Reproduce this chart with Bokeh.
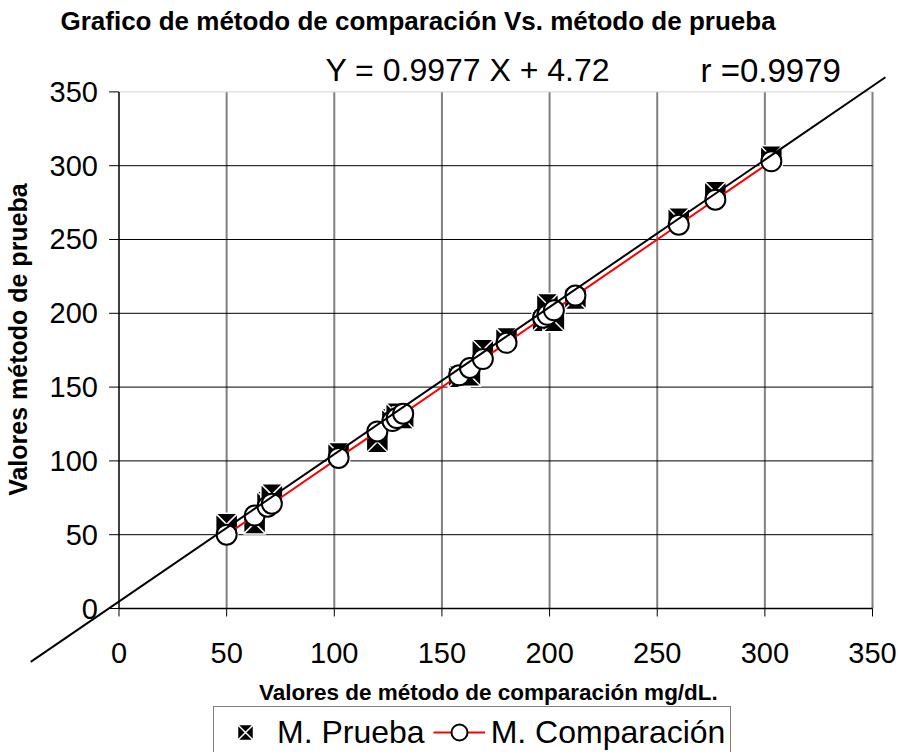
from bokeh.plotting import figure
from bokeh.models import Range1d, Legend, LegendItem, ColumnDataSource, Label
from bokeh.embed import file_html
from bokeh.resources import INLINE
from bokeh.core.properties import value
import math

# ---------------- data ----------------
metodo_comparacion = [50, 63, 69, 71, 102, 120, 127, 129, 132, 158, 163, 169, 180,
                      197, 199, 202, 212, 260, 277, 303]
metodo_prueba = [57, 58, 72, 77, 105, 113, 128, 132, 129, 157, 158, 175, 183,
                 195, 206, 195, 210, 264, 282, 306]
slope = 0.9977
intercept = 4.72
r_value = 0.9979
x_ticks = [0, 50, 100, 150, 200, 250, 300, 350]
y_ticks = [0, 50, 100, 150, 200, 250, 300, 350]
line_x = [-41, 356]

title_text = "Grafico de método de comparación Vs. método de prueba"
x_title = "Valores de método de comparación mg/dL."
y_title = "Valores método de prueba"
eq_text = "Y = %.4f X + %.2f" % (slope, intercept)
r_text = "r =%.4f" % r_value

FONT_NAME = "Liberation Sans"
FONT = value(FONT_NAME)

# ---------------- figure ----------------
p = figure(width=898, height=752, output_backend="svg", toolbar_location=None,
           x_range=Range1d(-55.04, 362.07), y_range=Range1d(-97.56, 411.92),
           x_axis_location=None, y_axis_location=None, min_border=0,
           outline_line_color=None, background_fill_color="white",
           border_fill_color="white")
p.grid.visible = False

xmin, xmax = x_ticks[0], x_ticks[-1]
ymin, ymax = y_ticks[0], y_ticks[-1]

# vertical grid lines (grey)
vx = x_ticks[1:]
p.segment(x0=vx, y0=[ymin] * len(vx), x1=vx, y1=[ymax] * len(vx),
          line_color="#808080", line_width=2)
# horizontal grid lines (black) and light top border
hy = y_ticks[1:-1]
p.segment(x0=[xmin] * len(hy), y0=hy, x1=[xmax] * len(hy), y1=hy,
          line_color="black", line_width=1)
p.segment(x0=[xmin], y0=[ymax], x1=[xmax], y1=[ymax], line_color="#d4d4d4", line_width=1)
# axis lines
p.segment(x0=[xmin, xmin], y0=[ymin, ymin], x1=[xmax, xmin], y1=[ymin, ymax],
          line_color="black", line_width=1.5)
# tick marks
TX = 4.6   # y tick length (x units)
TY = 5.4   # x tick length (y units)
p.segment(x0=[xmin - TX] * len(y_ticks), y0=y_ticks, x1=[xmin] * len(y_ticks), y1=y_ticks,
          line_color="black", line_width=1)
p.segment(x0=x_ticks, y0=[ymin] * len(x_ticks), x1=x_ticks, y1=[ymin - TY] * len(x_ticks),
          line_color="black", line_width=1)

# tick labels
p.text(x=[xmin] * len(y_ticks), y=y_ticks, text=[str(v) for v in y_ticks],
       text_font=FONT, text_font_size="29px", text_align="right",
       text_baseline="middle", x_offset=-21, text_color="black")
p.text(x=x_ticks, y=[ymin] * len(x_ticks), text=[str(v) for v in x_ticks],
       text_font=FONT, text_font_size="29px", text_align="center",
       text_baseline="middle", y_offset=44, text_color="black")

# data
src = ColumnDataSource(dict(x=metodo_comparacion, prueba=metodo_prueba,
                            comp=metodo_comparacion))
sq = p.scatter("x", "prueba", source=src, marker="square_x", size=22,
               fill_color="black", line_color="white", line_width=1.5)
rl = p.line("x", "comp", source=src, line_color="red", line_width=2)
ci = p.scatter("x", "comp", source=src, marker="circle", size=20,
               fill_color="white", line_color="black", line_width=2)

# regression line
line_y = [slope * v + intercept for v in line_x]
p.line(line_x, line_y, line_color="black", line_width=2)

# texts
p.add_layout(Label(x=138.9, y=397.7, text=title_text, text_font=FONT_NAME,
                   text_font_size="26px", text_font_style="bold", text_color="black",
                   text_align="center", text_baseline="middle"))
p.add_layout(Label(x=95.9, y=364.5, text=eq_text, text_font=FONT_NAME, text_color="black",
                   text_font_size="32px", text_align="left", text_baseline="middle"))
p.add_layout(Label(x=270.1, y=364.5, text=r_text, text_font=FONT_NAME, text_color="black",
                   text_font_size="33px", text_align="left", text_baseline="middle"))
p.add_layout(Label(x=171.6, y=-56.9, text=x_title, text_font=FONT_NAME,
                   text_font_size="22.5px", text_font_style="bold", text_color="black",
                   text_align="center", text_baseline="middle"))
p.add_layout(Label(x=-46.7, y=182.2, text=y_title, text_font=FONT_NAME,
                   text_font_size="25px", text_font_style="bold", angle=math.pi / 2,
                   text_color="black", text_align="center", text_baseline="middle"))

legend = Legend(items=[LegendItem(label="M. Prueba", renderers=[sq]),
                       LegendItem(label="M. Comparación", renderers=[rl, ci])],
                orientation="horizontal", location=(213, -6),
                label_text_font=FONT_NAME, label_text_font_size="32px",
                label_text_color="black",
                border_line_color="black", border_line_width=1, padding=5,
                spacing=8, label_standoff=6, glyph_width=52, glyph_height=40,
                margin=0, background_fill_color="white", background_fill_alpha=1)
p.add_layout(legend)

open("out.html", "w").write(file_html(p, INLINE))
